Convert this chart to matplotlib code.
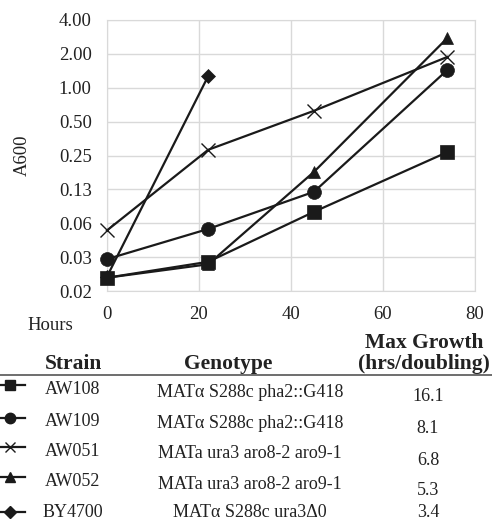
import matplotlib.pyplot as plt
import numpy as np
from decimal import Decimal, ROUND_HALF_UP
from matplotlib.lines import Line2D
from matplotlib.ticker import FixedLocator, FuncFormatter

plt.rcParams['font.family'] = ['Liberation Serif', 'DejaVu Serif']

# growth curves, A600 vs hours
hours = [0, 22, 45, 74]
aw108 = [0.0205, 0.0284, 0.079, 0.268]
aw109 = [0.030, 0.0556, 0.119, 1.44]
aw051 = [0.054, 0.281, 0.624, 1.88]
aw052 = [0.0205, 0.027, 0.179, 2.77]
by4700_hours = [0, 22]
by4700 = [0.021, 1.27]

strains = ['AW108', 'AW109', 'AW051', 'AW052', 'BY4700']
genotypes = ['MATα S288c pha2::G418', 'MATα S288c pha2::G418',
             'MATa ura3 aro8-2 aro9-1', 'MATa ura3 aro8-2 aro9-1',
             'MATα S288c ura3Δ0']
max_growth = ['16.1', '8.1', '6.8', '5.3', '3.4']
markers = ['s', 'o', 'x', '^', 'D']
msizes = [10, 10, 10, 9, 7.5]

ytick_vals = [2.0 ** k for k in range(-6, 3)]

W, H = 492, 521
fig = plt.figure(figsize=(W / 100, H / 100), dpi=100)
ax = fig.add_axes([107 / W, 1 - 291 / H, 368 / W, 271 / H])

line_col = '#1a1a1a'
grid_col = '#d9d9d9'
txt_col = '#222222'

series = [(hours, aw108), (hours, aw109), (hours, aw051), (hours, aw052),
          (by4700_hours, by4700)]
for (xs, ys), m, ms in zip(series, markers, msizes):
    ax.plot(xs, ys, color=line_col, lw=1.6, marker=m, ms=ms,
            mew=1.0 if m == 'x' else 0.5, mfc=line_col, mec=line_col,
            zorder=3, clip_on=False)

# 0.125 should read 0.13, so round half up
def fmt2(v, p):
    return str(Decimal(float(v)).quantize(Decimal('0.01'), rounding=ROUND_HALF_UP))

ax.set_yscale('log', base=2)
ax.set_ylim(2.0 ** -6, 4)
ax.set_xlim(0, 80)
ax.yaxis.set_major_locator(FixedLocator(ytick_vals))
ax.yaxis.set_minor_locator(FixedLocator([]))
ax.yaxis.set_major_formatter(FuncFormatter(fmt2))
ax.set_xticks([0, 20, 40, 60, 80])
ax.grid(True, color=grid_col, lw=1.0)
ax.set_axisbelow(True)
for s in ax.spines.values():
    s.set_color(grid_col)
ax.tick_params(length=0, labelsize=13.5, colors=txt_col)
ax.tick_params(axis='x', pad=11)
ax.tick_params(axis='y', pad=11)
ax.set_ylabel('A600', fontsize=13.5, color=txt_col, labelpad=20)

def ftext(x, y, s, **kw):
    fig.text(x / W, 1 - y / H, s, va='baseline', color=txt_col, **kw)

ftext(50, 330, 'Hours', ha='center', fontsize=13.5)

# table of strains under the plot
ftext(424, 348, 'Max Growth', ha='center', fontsize=15.5, fontweight='bold')
ftext(424, 369, '(hrs/doubling)', ha='center', fontsize=15.5, fontweight='bold')
ftext(74, 369, 'Strain', ha='center', fontsize=15.5, fontweight='bold')
ftext(228, 369, 'Genotype', ha='center', fontsize=15.5, fontweight='bold')
fig.add_artist(Line2D([0, 1], [1 - 374.5 / H] * 2, color='#555555', lw=1.2,
                      transform=fig.transFigure))

mark_y = [385, 418, 447, 477, 512]
strain_y = [394, 426, 456, 486, 517]
geno_y = [397, 428, 458, 489, 517]
val_y = [401, 433, 465, 495, 517]
for i in range(len(strains)):
    y = mark_y[i]
    fig.add_artist(Line2D([0, 25 / W], [1 - y / H] * 2, color=line_col,
                          lw=1.6, transform=fig.transFigure))
    fig.add_artist(Line2D([10 / W], [1 - y / H], marker=markers[i],
                          ms=msizes[i] * 0.75, color=line_col, mfc=line_col,
                          mew=1.0, transform=fig.transFigure))
    ftext(73, strain_y[i], strains[i], ha='center', fontsize=13)
    ftext(250, geno_y[i], genotypes[i], ha='center', fontsize=13)
    ftext(428, val_y[i], max_growth[i], ha='center', fontsize=13)

fig.savefig('out.png', dpi=100)
